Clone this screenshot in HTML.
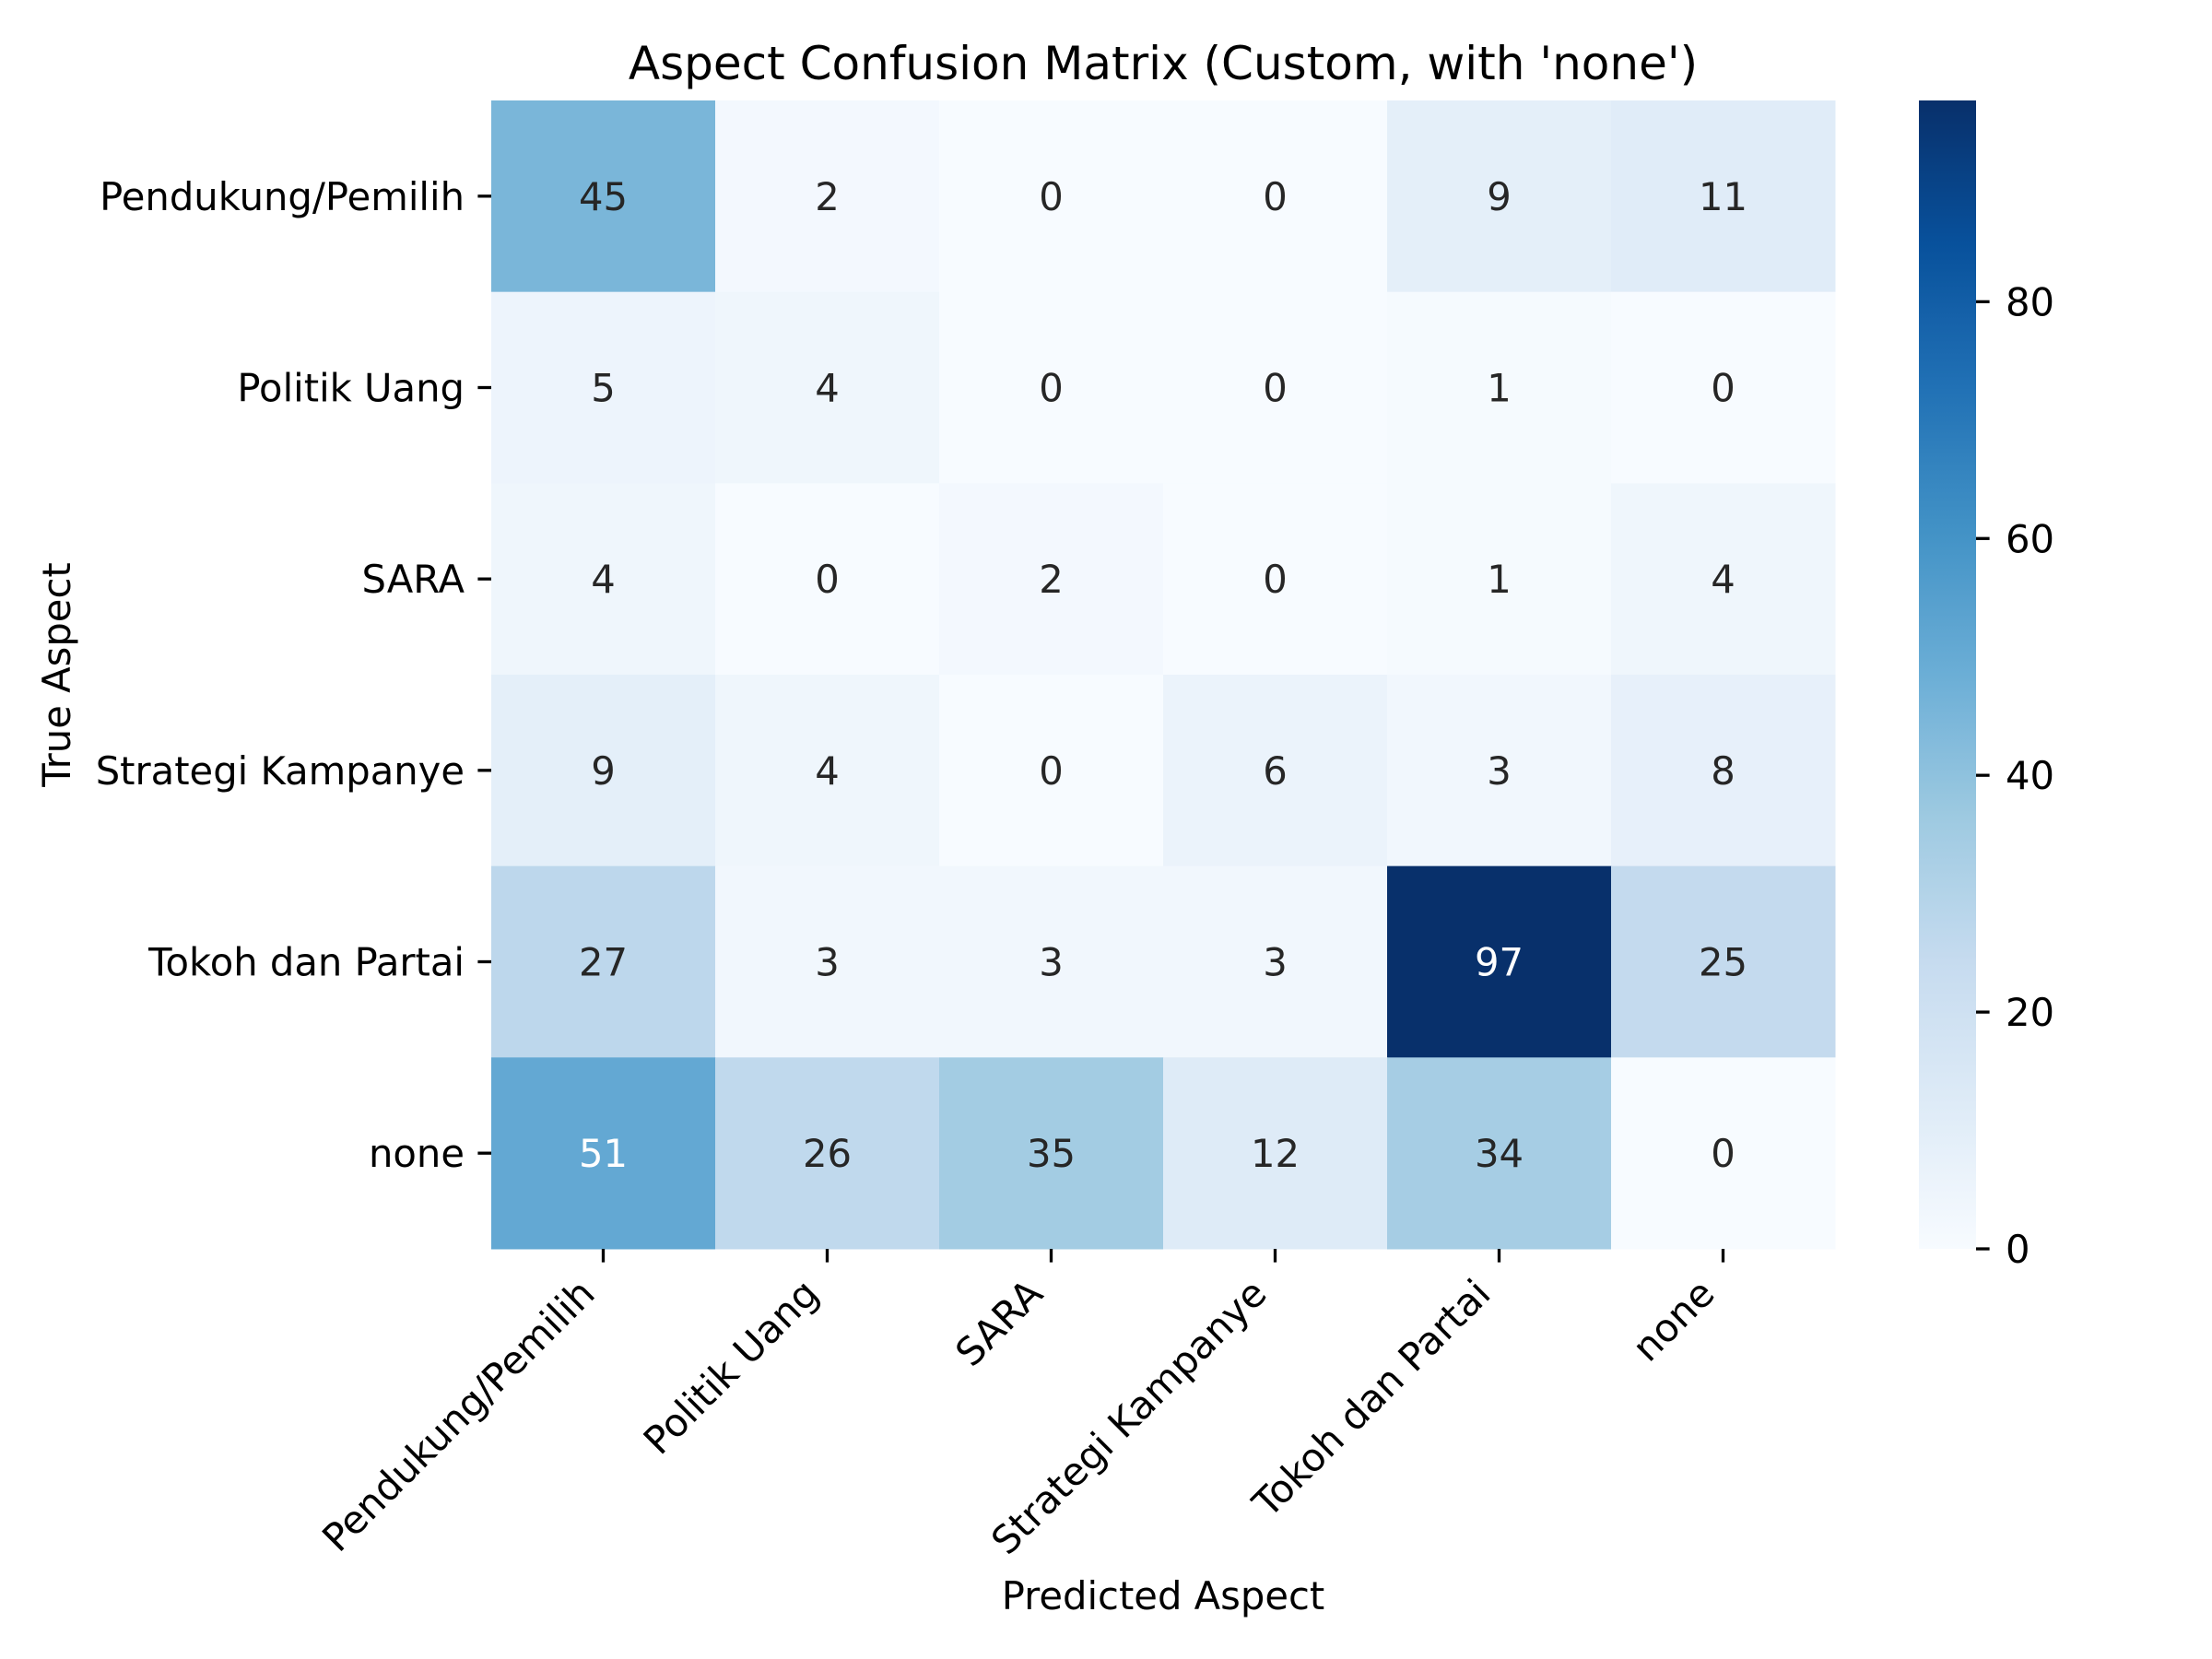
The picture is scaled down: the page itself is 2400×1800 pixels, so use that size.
<!DOCTYPE html>
<html><head><meta charset="utf-8"><style>
html,body{margin:0;padding:0;background:#fff;}
svg{display:block;font-family:"DejaVu Sans","Liberation Sans",sans-serif;}
</style></head><body>
<svg id="chart" width="2400" height="1800" viewBox="0 0 2400 1800" xmlns="http://www.w3.org/2000/svg">
<rect width="2400" height="1800" fill="#fff"/>
<text x="1262" y="86" font-size="50" text-anchor="middle" fill="#000">Aspect Confusion Matrix (Custom, with 'none')</text>
<text x="1262" y="1746" font-size="41.7" text-anchor="middle" fill="#000">Predicted Aspect</text>
<text transform="translate(76,732) rotate(-90)" font-size="41.7" text-anchor="middle" fill="#000">True Aspect</text>
<g id="cells"></g>
<g id="cbar"></g>
</svg>
<script>
const categories = ["Pendukung/Pemilih","Politik Uang","SARA","Strategi Kampanye","Tokoh dan Partai","none"];
const row0 = [45,2,0,0,9,11];
const row1 = [5,4,0,0,1,0];
const row2 = [4,0,2,0,1,4];
const row3 = [9,4,0,6,3,8];
const row4 = [27,3,3,3,97,25];
const row5 = [51,26,35,12,34,0];
const matrix = [row0,row1,row2,row3,row4,row5];
const cbarTicks = [0,20,40,60,80];

const NS="http://www.w3.org/2000/svg";
const L=533,T=109,R=1991,B=1355;
const n=categories.length;
const cw=(R-L)/n, ch=(B-T)/n;
let vmax=0; matrix.forEach(r=>r.forEach(v=>{if(v>vmax)vmax=v;}));
const vmin=0;
const xPos=i=>L+cw*i;
const yPos=j=>T+ch*j;
const blues=["#f7fbff","#deebf7","#c6dbef","#9ecae1","#6baed6","#4292c6","#2171b5","#08519c","#08306b"].map(h=>[parseInt(h.substr(1,2),16),parseInt(h.substr(3,2),16),parseInt(h.substr(5,2),16)]);
function cmap(t){t=Math.max(0,Math.min(1,t));const p=t*8;const i=Math.min(7,Math.floor(p));const f=p-i;const a=blues[i],b=blues[i+1];return a.map((c,k)=>c+(b[k]-c)*f);}
function rgb(c){return "rgb("+c.map(Math.round).join(",")+")";}
function lum(c){const s=c.map(v=>{v/=255;return v<=0.03928?v/12.92:Math.pow((v+0.055)/1.055,2.4);});return 0.2126*s[0]+0.7152*s[1]+0.0722*s[2];}
function mk(tag,attrs,parent){const e=document.createElementNS(NS,tag);for(const k in attrs)e.setAttribute(k,attrs[k]);parent.appendChild(e);return e;}
const g=document.getElementById("cells");
matrix.forEach((row,j)=>row.forEach((v,i)=>{
  const c=cmap((v-vmin)/(vmax-vmin));
  const r=mk("rect",{x:xPos(i),y:yPos(j),width:cw+0.5,height:ch+0.5,fill:rgb(c)},g);
  
  
  const t=mk("text",{x:xPos(i)+cw/2,y:yPos(j)+ch/2+15,"font-size":"41.7","text-anchor":"middle",fill:lum(c)>0.408?"#262626":"#ffffff"},g);
  
  
  t.textContent=v;
}));
categories.forEach((name,k)=>{
  const cy=yPos(k)+ch/2;
  const tk=mk("line",{x1:L-14.6,x2:L,y1:cy,y2:cy,stroke:"#000","stroke-width":3.3},g);
  
  
  const yl=mk("text",{x:L-29,y:cy+15,"font-size":"41.7","text-anchor":"end",fill:"#000"},g);
  
  
  yl.textContent=name;
  const cx=xPos(k)+cw/2;
  const tx=mk("line",{x1:cx,x2:cx,y1:B,y2:B+14.6,stroke:"#000","stroke-width":3.3},g);
  
  
  const px=cx-7, py=B+29+22;
  const xl=mk("text",{x:px,y:py,"font-size":"41.7","text-anchor":"end",fill:"#000",transform:"rotate(-45 "+px+" "+py+")"},g);
  
  
  xl.textContent=name;
});
// colorbar
const cb=document.getElementById("cbar");
const CX0=2082,CX1=2144;
const cbY=v=>B-(v-vmin)/(vmax-vmin)*(B-T);
const defs=mk("defs",{},cb);
const grad=mk("linearGradient",{id:"cbg",x1:"0",y1:"1",x2:"0",y2:"0"},defs);
for(let s=0;s<=32;s++){const t=s/32;mk("stop",{offset:t,"stop-color":rgb(cmap(t))},grad);}
const cr=mk("rect",{x:CX0,y:T,width:CX1-CX0,height:B-T,fill:"url(#cbg)"},cb);


cbarTicks.forEach(v=>{
  const y=cbY(v);
  const l=mk("line",{x1:CX1,x2:CX1+14.6,y1:y,y2:y,stroke:"#000","stroke-width":3.3},cb);
  
  
  const t=mk("text",{x:CX1+32,y:y+15,"font-size":"41.7",fill:"#000"},cb);
  
  
  t.textContent=v;
});
</script>
</body></html>
